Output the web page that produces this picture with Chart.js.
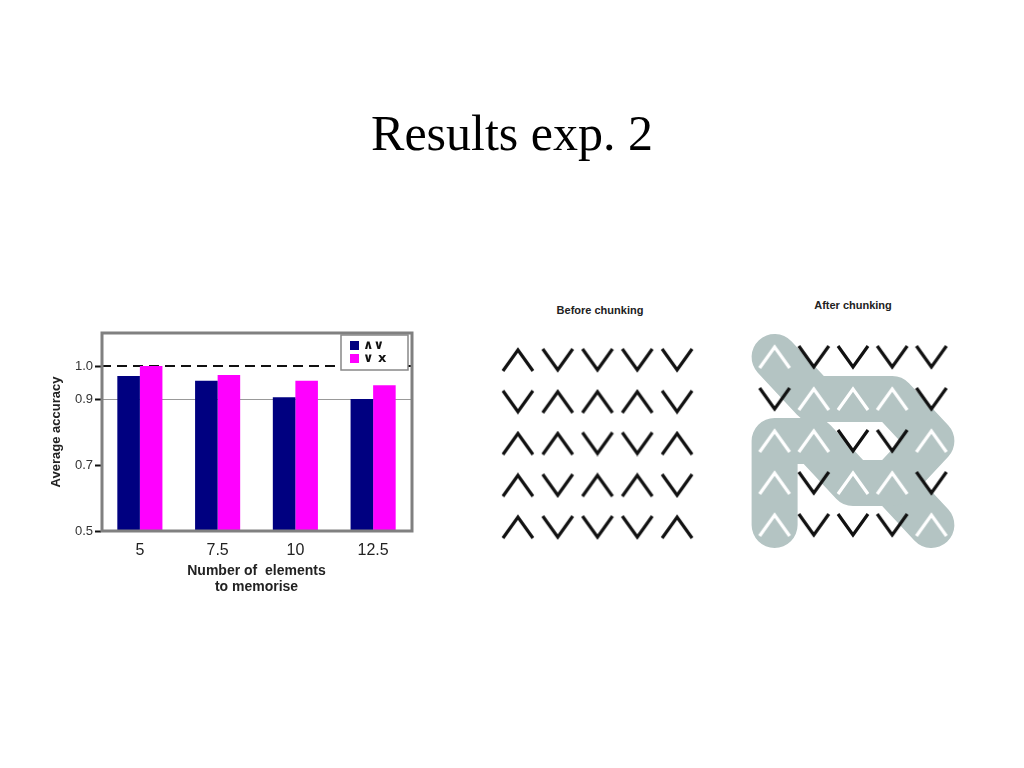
<!DOCTYPE html>
<html>
<head>
<meta charset="utf-8">
<script src="https://cdn.jsdelivr.net/npm/chart.js@4.4.1/dist/chart.umd.min.js"></script>
<style>
  body { margin: 0; width: 1024px; height: 768px; background: #fff; position: relative; overflow: hidden; }
  .abs { position: absolute; }
  #title { left: 0; width: 1024px; top: 104px; text-align: center; font-family: "Liberation Serif", "Times New Roman", serif; font-size: 50px; color: #000; }
  .gridTitle { font-family: "Liberation Sans", Arial, sans-serif; font-weight: bold; font-size: 11px; color: #222; width: 200px; text-align: center; }
</style>
</head>
<body>
<div id="title" class="abs">Results exp. 2</div>

<div class="abs" style="left:40px;top:320px;width:385px;height:285px"><canvas id="canva_bar"></canvas></div>

<div class="abs gridTitle" style="left:500px;top:304px">Before chunking</div>
<div class="abs" style="left:473px;top:314px;width:249px;height:259px"><canvas id="canva_before"></canvas></div>

<div class="abs gridTitle" style="left:753px;top:299px">After chunking</div>
<div class="abs" style="left:725px;top:306px;width:256px;height:270px"><canvas id="canva_after"></canvas></div>

<script>
// bar chart data
var categorias = ['5', '7.5', '10', '12.5'];
var serie1 = [0.97, 0.955, 0.905, 0.90];   // ∧∨
var serie2 = [1.0, 0.973, 0.955, 0.942];   // ∨ x
var nombres = ['\u2227\u2228', '\u2228 x'];
var yTicks = [0.5, 0.7, 0.9, 1.0];
var refGris = 0.9;
var refDashed = 1.0;

// chevron grids, A = ∧, V = ∨ (rows top to bottom)
var antes = ['AVVVV', 'VAAAV', 'AAVVA', 'AVAAV', 'AVVVA'];
var despues = ['AVVVV', 'VAAAV', 'AAVVA', 'AVAAV', 'AVVVA'];
// chunk outlines as [row, col] cell paths
var chunks = [
    [[0, 0], [1, 1], [1, 2], [1, 3], [2, 4], [3, 3], [3, 2], [2, 1], [2, 0], [4, 0]],
    [[3, 3], [4, 4]]
];

var fuente = '"Liberation Sans", Arial, sans-serif';
Chart.defaults.font.family = fuente;
Chart.defaults.animation = false;

var marcoPlugin = {
    id: 'marco',
    beforeDatasetsDraw: function (chart) {
        var c = chart.ctx, a = chart.chartArea, y = chart.scales.y;
        c.save();
        c.strokeStyle = '#999';
        c.lineWidth = 1;
        var yg = Math.round(y.getPixelForValue(refGris)) + 0.5;
        c.beginPath(); c.moveTo(a.left, yg); c.lineTo(a.right, yg); c.stroke();
        c.strokeStyle = '#111';
        c.lineWidth = 2;
        c.setLineDash([10, 6]);
        var yd = Math.round(y.getPixelForValue(refDashed));
        c.beginPath(); c.moveTo(a.left, yd); c.lineTo(a.right, yd); c.stroke();
        c.restore();
    },
    afterDatasetsDraw: function (chart) {
        var c = chart.ctx, a = chart.chartArea;
        c.save();
        // legend box
        var bx = a.right - 71, by = a.top + 2, bw = 67, bh = 35;
        c.fillStyle = '#fff';
        c.fillRect(bx, by, bw, bh);
        c.strokeStyle = '#888';
        c.lineWidth = 1.5;
        c.strokeRect(bx, by, bw, bh);
        chart.data.datasets.forEach(function (ds, i) {
            var yy = by + 11 + i * 13;
            c.fillStyle = ds.backgroundColor;
            c.fillRect(bx + 9, yy - 5, 9, 9);
            c.fillStyle = '#111';
            c.font = 'bold 13px "DejaVu Sans", sans-serif';
            c.textBaseline = 'middle';
            c.fillText(ds.label, bx + 22, yy);
        });
        // frame
        c.strokeStyle = '#808080';
        c.lineWidth = 3;
        c.strokeRect(a.left + 1, a.top, a.right - a.left - 1, a.bottom - a.top);
        c.restore();
    }
};

graficar();
function graficar() {
    var ctx = document.getElementById('canva_bar').getContext('2d');
    var myChartBar = new Chart(ctx, {
        type: 'bar',
        data: {
            labels: categorias,
            datasets: [{
                label: nombres[0],
                data: serie1,
                backgroundColor: '#000080'
            }, {
                label: nombres[1],
                data: serie2,
                backgroundColor: '#ff00ff'
            }]
        },
        options: {
            responsive: true,
            maintainAspectRatio: false,
            events: [],
            layout: { padding: { top: 13, right: 13, left: 0, bottom: 0 } },
            categoryPercentage: 0.58,
            barPercentage: 1.0,
            plugins: { legend: { display: false }, tooltip: { enabled: false } },
            scales: {
                x: {
                    grid: { display: false },
                    border: { display: false },
                    ticks: { color: '#222', font: { size: 16 }, padding: 2 },
                    title: {
                        display: true,
                        text: ['Number of  elements', 'to memorise'],
                        color: '#222',
                        font: { size: 14, weight: 'bold', lineHeight: 1.15 },
                        padding: { top: 0, bottom: 10 }
                    },
                    afterFit: function (s) { s.height = 74; }
                },
                y: {
                    min: 0.5,
                    max: 1.1,
                    afterBuildTicks: function (s) {
                        s.ticks = yTicks.map(function (v) { return { value: v }; });
                    },
                    grid: { drawOnChartArea: false, tickLength: 6, tickColor: '#111', tickWidth: 2 },
                    border: { display: false },
                    ticks: {
                        color: '#333',
                        font: { size: 13 },
                        padding: 2,
                        callback: function (v) { return v.toFixed(1); }
                    },
                    title: {
                        display: true,
                        text: 'Average accuracy',
                        color: '#222',
                        font: { size: 13, weight: 'bold' },
                        padding: { top: 9, bottom: 0 }
                    },
                    afterFit: function (s) { s.width = 61; }
                }
            }
        },
        plugins: [marcoPlugin]
    });

    dibujarRejilla('canva_before', antes, [], false, 25);
    dibujarRejilla('canva_after', despues, chunks, true, 30);
}

function chevron(arriba, color) {
    var cv = document.createElement('canvas');
    cv.width = 34; cv.height = 26;
    var c = cv.getContext('2d');
    c.strokeStyle = color;
    c.lineWidth = 3.2;
    c.lineJoin = 'miter';
    c.beginPath();
    if (arriba) {
        c.moveTo(2, 24); c.lineTo(17, 3); c.lineTo(32, 24);
    } else {
        c.moveTo(2, 2); c.lineTo(17, 23); c.lineTo(32, 2);
    }
    c.stroke();
    return cv;
}

function dibujarRejilla(id, filas, caminos, blancos, pad) {
    var upImg = chevron(true, blancos ? '#ffffff' : '#111');
    var downImg = chevron(false, '#111');
    var puntos = [];
    filas.forEach(function (f, r) {
        f.split('').forEach(function (ch, col) {
            puntos.push({ x: col, y: r, up: ch === 'A' });
        });
    });
    var datasets = [{
        data: puntos,
        order: 0,
        pointStyle: function (c) { return c.raw && c.raw.up ? upImg : downImg; },
        pointRadius: 12,
        clip: false
    }];
    caminos.forEach(function (p) {
        datasets.push({
            data: p.map(function (rc) { return { x: rc[1], y: rc[0] }; }),
            order: 1,
            showLine: true,
            pointRadius: 0,
            borderColor: '#b4c4c3',
            borderWidth: 46,
            borderJoinStyle: 'round',
            borderCapStyle: 'round',
            tension: 0,
            clip: false
        });
    });
    new Chart(document.getElementById(id).getContext('2d'), {
        type: 'scatter',
        data: { datasets: datasets },
        options: {
            responsive: true,
            maintainAspectRatio: false,
            events: [],
            layout: { padding: pad },
            plugins: { legend: { display: false }, tooltip: { enabled: false } },
            scales: {
                x: { display: false, min: -0.5, max: 4.5 },
                y: { display: false, min: -0.5, max: 4.5, reverse: true }
            }
        }
    });
}
</script>
</body>
</html>
